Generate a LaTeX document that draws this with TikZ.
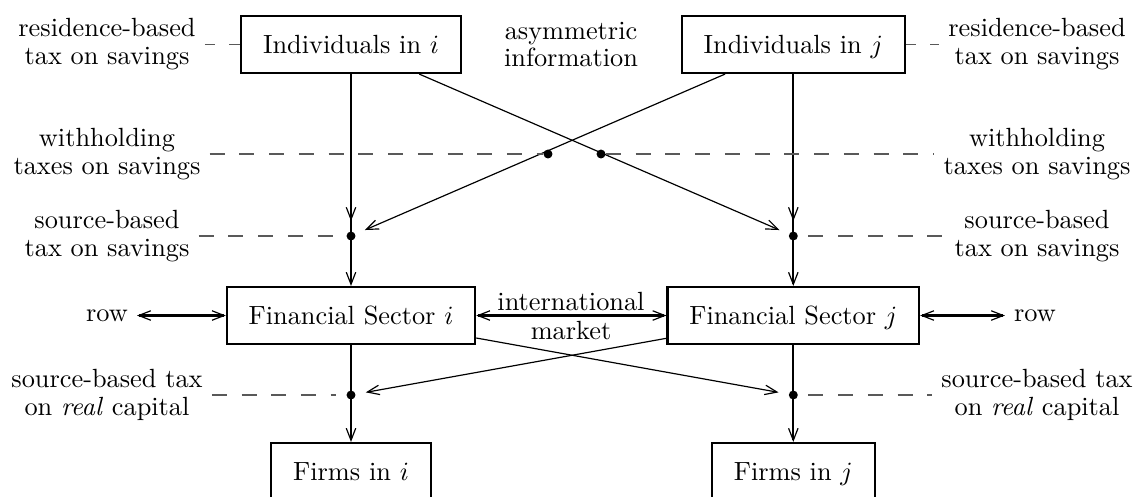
\documentclass[tikz,border=0pt]{standalone}
\usetikzlibrary{arrows.meta}
\begin{document}
\begin{tikzpicture}[x=0.38pt,y=-0.38pt,
  font=\fontsize{10}{10.6}\selectfont,
  box/.style={draw,line width=0.8pt,minimum height=21.66pt,inner xsep=8.3pt,inner ysep=0pt,text height=6.94pt,text depth=0pt},
  lbl/.style={align=center,inner sep=3.3pt},
  junction/.style={circle,inner sep=0pt,minimum size=11pt,path picture={\fill (path picture bounding box.center) circle (1.7pt);}},
  wdot/.style={circle,fill,inner sep=0pt,minimum size=3.4pt},
  mainline/.style={line width=0.8pt},
  slant/.style={line width=0.45pt},
  tax/.style={dash pattern=on 5.7pt off 5.6pt,line width=0.5pt,black!65},
  shorttax/.style={dash pattern=on 4pt off 5.3pt,line width=0.5pt,black!65},
  barb/.tip={Straight Barb[length=4.6pt,width=3.6pt,line width=0.45pt]},
  tip/.style={-barb},
  tips/.style={barb-barb}
]
\useasboundingbox (0,0) rectangle (1136,496);
% boxes
\node[box] (indi) at (351,44.5) {Individuals in $i$};
\node[box] (indj) at (793.3,44.5) {Individuals in $j$};
\node[box] (fsi) at (351,315.5) {Financial Sector $i$};
\node[box] (fsj) at (793.3,315.5) {Financial Sector $j$};
\node[box] (fi) at (351,471.5) {Firms in $i$};
\node[box] (fj) at (793.3,471.5) {Firms in $j$};
% junctions
\node[junction] (si) at (351,236) {};
\node[junction] (sj) at (793.3,236) {};
\node[junction] (ri) at (351,395) {};
\node[junction] (rj) at (793.3,395) {};
\node[wdot] (wd1) at (548,154) {};
\node[wdot] (wd2) at (601,154) {};
% labels
\node[lbl] (resl) at (107,44.5) {residence-based\\tax on savings};
\node[lbl] (resr) at (1037,44.5) {residence-based\\tax on savings};
\node[lbl] (asym) at (571,44.5) {asymmetric\\information};
\node[lbl] (whl) at (107,154) {withholding\\taxes on savings};
\node[lbl] (whr) at (1037,154) {withholding\\taxes on savings};
\node[lbl] (sbl) at (107,236) {source-based\\tax on savings};
\node[lbl] (sbr) at (1037,236) {source-based\\tax on savings};
\node[lbl] (rowl) at (107,315.5) {row};
\node[lbl] (rowr) at (1035,315.5) {row};
\node[lbl,anchor=base] (intl) at (571,310) {international};
\node[lbl,anchor=base] (mkt) at (571,339) {market};
\node[lbl] (rcl) at (107,395) {source-based tax\\on \textit{real} capital};
\node[lbl] (rcr) at (1037,395) {source-based tax\\on \textit{real} capital};
% vertical flows
\draw[mainline,tip] (indi) -- (fsi);
\draw[mainline,tip] (indi) -- (si);
\draw[mainline,tip] (indj) -- (fsj);
\draw[mainline,tip] (indj) -- (sj);
\draw[mainline,tip] (fsi) -- (fi);
\draw[mainline,tip] (fsj) -- (fj);
% cross flows
\draw[slant,tip] (indi) -- (sj);
\draw[slant,tip] (indj) -- (si);
\draw[slant,tip] (fsi) -- (rj);
\draw[slant,tip] (fsj) -- (ri);
% horizontal flows
\draw[mainline,tips] (rowl) -- (fsi);
\draw[mainline,tips] (fsi) -- (fsj);
\draw[mainline,tips] (fsj) -- (rowr);
% taxes
\draw[shorttax] (resl) -- (indi);
\draw[shorttax] (indj) -- (resr);
\draw[tax] (whl) -- (wd1);
\draw[tax] (wd2) -- (whr);
\draw[tax] (sbl) -- (si);
\draw[tax] (sj) -- (sbr);
\draw[tax] (rcl) -- (ri);
\draw[tax] (rj) -- (rcr);
\end{tikzpicture}
\end{document}
